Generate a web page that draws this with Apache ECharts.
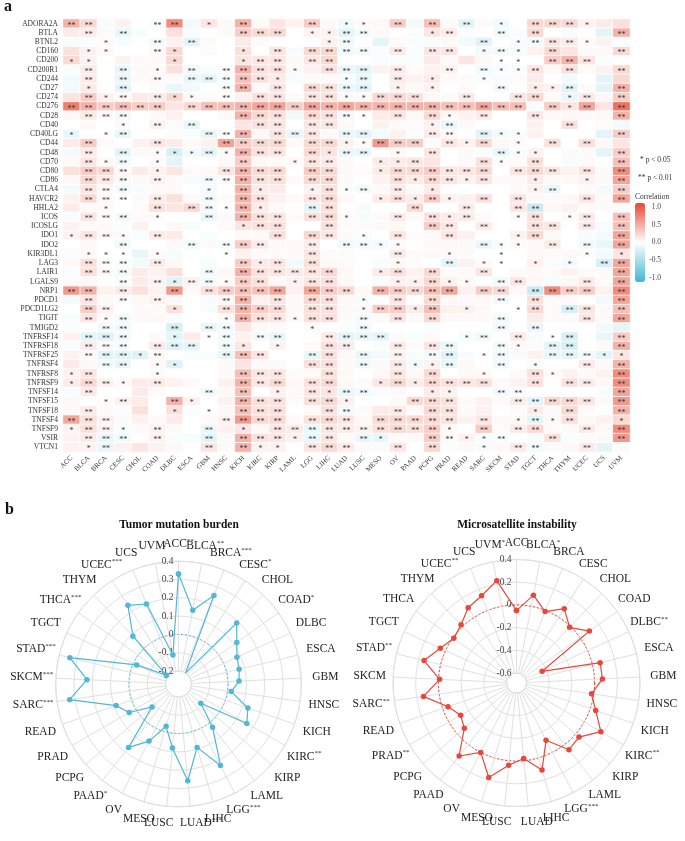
<!DOCTYPE html>
<html>
<head>
<meta charset="utf-8">
<script src="https://cdn.jsdelivr.net/npm/echarts@6/dist/echarts.min.js"></script>
<style>
html, body { margin: 0; padding: 0; background: #fff; }
#main { width: 685px; height: 841px; }
</style>
</head>
<body>
<div id="main"></div>
<script>
const SERIF = 'Liberation Serif';

const cancers = ['ACC', 'BLCA', 'BRCA', 'CESC', 'CHOL', 'COAD', 'DLBC', 'ESCA', 'GBM', 'HNSC', 'KICH',
  'KIRC', 'KIRP', 'LAML', 'LGG', 'LIHC', 'LUAD', 'LUSC', 'MESO', 'OV', 'PAAD', 'PCPG', 'PRAD', 'READ',
  'SARC', 'SKCM', 'STAD', 'TGCT', 'THCA', 'THYM', 'UCEC', 'UCS', 'UVM'];

const genes = ['ADORA2A', 'BTLA', 'BTNL2', 'CD160', 'CD200', 'CD200R1', 'CD244', 'CD27', 'CD274', 'CD276',
  'CD28', 'CD40', 'CD40LG', 'CD44', 'CD48', 'CD70', 'CD80', 'CD86', 'CTLA4', 'HAVCR2', 'HHLA2', 'ICOS',
  'ICOSLG', 'IDO1', 'IDO2', 'KIR3DL1', 'LAG3', 'LAIR1', 'LGALS9', 'NRP1', 'PDCD1', 'PDCD1LG2', 'TIGIT',
  'TMIGD2', 'TNFRSF14', 'TNFRSF18', 'TNFRSF25', 'TNFRSF4', 'TNFRSF8', 'TNFRSF9', 'TNFSF14', 'TNFSF15',
  'TNFSF18', 'TNFSF4', 'TNFSF9', 'VSIR', 'VTCN1'];

// correlation, one row per gene, columns in the order of cancers
const corrRows = [
  [.42,.21,-.04,.07,0,-.04,.63,-.07,.14,.03,.42,.03,.14,.07,.28,.03, -.07,.03,.04,.28,-.07,.35,.03,-.14,.03,-.07,0,.21,.21,.21,.07,.11,.17],
  [.11,.11,.03,-.11,-.04,0,.17,-.04,0,.03,.28,.21,.21,0,.07,.07, -.14,-.07,.04,0,-.03,.14,.11,-.03,0,-.07,-.03,.21,0,-.04,0,-.14,.42],
  [-.04,-.03,.03,-.04,0,-.07,.07,-.14,.03,0,.11,.03,0,0,-.03,.07, -.08,0,-.14,.03,-.04,-.03,.04,-.07,-.17,0,-.04,-.07,.14,.11,.03,.07,-.03],
  [.17,.07,.04,0,0,.04,.21,0,-.03,0,.17,0,.14,-.04,.21,.21, -.08,-.07,-.03,.11,-.04,.14,.14,0,-.07,-.07,-.04,.07,.21,.14,.03,.04,.21],
  [.21,.07,0,.07,.03,.03,.21,0,0,0,.14,.14,.14,.04,.14,.21, 0,0,-.03,-.03,-.03,.11,.03,.14,.04,0,0,0,.28,.42,.14,-.03,0],
  [-.04,.11,0,-.11,.04,.03,.17,-.07,-.04,.03,.42,.17,.17,.04,.07,.17, -.11,-.14,.07,.11,.03,.07,.07,0,-.07,-.04,-.03,.14,.04,.17,.03,.07,.21],
  [-.07,.11,0,-.11,.03,.04,.03,-.11,-.14,-.04,.35,.17,.11,-.04,.03,.03, -.04,-.11,0,.11,.07,.11,.03,.03,-.04,-.04,.03,.11,0,-.07,0,-.14,.21],
  [-.07,.11,0,-.14,0,.03,-.11,-.07,0,-.04,.42,.04,.14,0,.21,.17, -.11,-.14,0,.07,.03,.07,0,.03,0,-.07,0,.11,.07,-.17,.03,-.14,.42],
  [.14,.28,.07,.04,.11,.11,.21,.04,.03,0,.07,.17,.14,.03,.14,.17, .04,.03,.21,.21,.17,.04,.03,.11,0,0,.14,.21,.03,-.11,.11,.04,.28],
  [.70,.42,.28,.35,.28,.28,.14,.21,.35,.35,.42,.49,.49,.28,.49,.42, .49,.42,.42,.42,.42,.42,.35,.35,.49,.35,.35,-.04,.28,.14,.49,.14,.77],
  [.04,.11,.03,-.07,0,.03,.07,0,0,.03,.42,.21,.17,-.07,.21,.17, -.07,0,.11,.14,.03,.21,.04,.07,.11,0,0,.14,.04,.04,.03,.04,.42],
  [0,.03,0,.03,0,.07,.03,-.11,0,0,.14,.17,.14,0,.14,.14, .04,0,.07,.03,.03,.07,-.11,.04,0,0,0,.07,0,.17,0,.03,-.07],
  [-.11,0,0,-.11,0,0,.03,-.04,-.11,0,.42,.04,.14,-.11,.14,.03, -.11,-.14,-.07,.07,-.03,.11,.04,0,-.14,-.07,-.04,.07,0,0,0,-.14,.28],
  [.11,.28,.03,0,.07,.14,.11,.03,.07,.49,.28,.21,.21,.03,.21,.21, .07,.03,.56,.28,.28,.03,.14,.07,.21,.04,.03,0,.17,0,.17,.04,.14],
  [-.07,.11,0,-.14,.03,.03,-.21,-.07,-.14,.03,.42,.17,.14,0,.21,.14, -.11,-.11,0,.04,0,.14,0,.03,-.03,-.11,-.04,.07,0,.03,.03,-.14,.28],
  [.04,.14,.04,-.07,0,.03,-.14,0,0,.04,.28,.04,.03,.04,.14,.11, .03,0,.11,.11,.14,.14,0,.03,.17,.03,.03,.17,0,-.04,.03,0,.35],
  [.17,.28,.21,.04,.11,.07,.14,.03,.04,.14,.42,.21,.21,0,.28,.21, .04,.03,.11,.21,.21,.28,.14,.14,.21,0,.14,.21,.14,.07,.14,.03,.63],
  [.04,.21,.11,.04,.03,.07,.03,-.04,-.07,.03,.42,.17,.17,.03,.21,.21, .03,0,.07,.17,.11,.21,.14,.07,.14,.03,.04,.11,.03,.04,.07,.03,.49],
  [-.07,.14,.04,-.07,-.04,.03,.03,0,-.07,0,.42,.11,.11,0,.07,.17, -.03,-.07,.03,.11,.03,.11,0,0,0,0,.03,.07,-.11,0,.03,-.07,.28],
  [.07,.21,.04,0,.03,.11,.17,.03,-.07,.03,.42,.17,.07,.03,.14,.21, .04,0,.11,.17,.11,.28,.07,.07,.17,0,.14,.04,.03,.04,.14,.03,.49],
  [.11,.03,.03,0,.03,.17,.14,.21,-.07,0,.42,.11,.03,0,-.14,.17, 0,-.04,0,0,.21,0,0,.11,0,0,.14,-.28,.04,.07,.03,.03,.03],
  [-.04,.14,.03,-.07,.03,.03,0,0,-.11,.03,.42,.17,.14,.03,.17,.21, .03,-.04,.03,.11,.03,.17,.11,.11,.03,0,.03,.17,0,.03,.11,0,.35],
  [.07,.03,.03,-.03,.07,0,.04,-.04,0,.03,.14,.17,.17,0,0,.17, .03,.03,.04,.04,0,.28,.14,0,.11,0,0,.17,.14,0,.11,-.04,.35],
  [.07,.14,.04,.03,-.04,.11,.11,0,-.04,0,.03,.03,.17,0,.21,.14, .03,-.04,0,.14,.03,.04,.14,.07,0,0,.07,.21,.03,0,-.04,-.07,.49],
  [0,.04,0,-.07,0,0,.03,-.07,.03,-.04,.28,.11,.03,.04,.11,0, -.07,-.07,-.07,.03,0,.04,.04,.03,-.11,-.04,.03,.03,.11,0,-.07,-.11,.49],
  [-.03,.03,0,0,-.11,.03,-.04,0,0,0,.07,.03,.03,.03,.14,.03, .03,0,0,.11,.03,.04,.04,.03,0,0,0,.04,.03,.04,.03,-.07,.14],
  [.04,.17,.03,-.04,-.07,.11,.04,0,-.04,0,.28,.11,.14,-.07,.17,.04, .03,0,-.04,.04,.03,0,-.14,.07,.03,0,0,.07,-.04,-.07,0,-.21,.49],
  [-.03,.17,.04,-.07,.11,.07,.17,0,-.07,.04,.42,.17,.14,.11,.14,.21, .04,0,.11,.17,.07,.21,.03,.03,.14,0,.03,.04,.03,.07,.03,.03,.49],
  [.03,.04,0,-.04,.11,.07,-.17,.07,-.07,.03,.28,.17,.04,.07,.14,.17, .04,0,-.04,.07,.07,.21,.07,.04,0,-.07,.14,.04,-.04,.04,.11,.03,.49],
  [.56,.42,.07,.11,.17,.07,.56,.03,.17,.28,.35,.35,.49,.07,.49,.28, .21,.04,.42,.28,.21,.35,.49,.07,.28,.21,.04,-.28,.63,.28,.28,.07,.63],
  [-.07,.14,.03,-.04,.04,.07,.03,0,-.04,.04,.42,.07,.14,.03,.21,.17, .03,-.04,0,.14,0,.21,.04,.03,.03,-.07,0,.17,.03,.03,0,-.07,.49],
  [0,.28,.07,0,.03,.03,.17,0,-.04,.17,.42,.28,.21,.03,.17,.17, .04,.04,.28,.28,.11,.35,.07,.07,.04,0,0,.21,.03,-.21,.14,.03,.35],
  [-.04,.14,.03,-.07,.03,.04,-.04,0,0,.03,.42,.17,.14,.03,.17,.17, .03,-.07,.03,.14,.03,.21,.04,.04,.03,-.07,0,.11,.03,.03,.14,.03,.49],
  [-.04,0,-.07,-.07,0,0,-.21,0,-.11,-.07,.14,.04,.03,0,.03,0, -.03,-.07,0,0,0,-.03,0,0,0,-.07,0,-.11,0,0,0,-.07,-.14],
  [.07,-.14,-.17,-.07,0,.03,-.14,.11,0,-.07,.07,-.07,-.11,0,0,.11, -.14,-.11,-.14,.03,-.03,.03,0,-.04,-.07,0,.11,-.04,0,-.21,0,-.11,.28],
  [-.04,.11,.03,-.04,0,.11,-.17,-.14,0,-.07,.14,0,.07,0,.03,.17, .11,0,-.03,.11,.03,.14,-.11,0,0,-.07,.04,.03,-.14,-.21,0,.03,.42],
  [.07,.03,-.14,-.14,-.17,.04,0,-.04,-.04,-.11,.35,.14,0,0,-.11,.17, .04,-.11,-.07,.07,-.04,-.07,-.17,-.04,0,-.07,.03,.07,-.11,-.14,-.07,-.14,.14],
  [.11,.04,-.07,-.11,0,.04,-.17,0,0,.03,.14,.03,.03,0,.17,.17, .03,-.07,.03,.11,-.07,.07,-.11,.04,0,-.07,0,-.04,0,0,.11,.03,.42],
  [.07,.14,0,0,0,.03,0,0,0,.03,.35,.14,.14,.03,.04,.17, .04,0,.04,.14,.04,.21,0,.04,.04,0,.03,.17,.03,.07,.03,.07,.63],
  [.11,.21,.07,.03,.11,.11,.07,.03,0,.07,.42,.14,.21,.04,.17,.21, .04,.03,.14,.21,.11,.21,.17,.14,.17,.03,.07,.17,0,.17,.11,.04,.63],
  [-.04,.11,0,0,.11,.03,0,0,-.07,.04,.35,0,.07,.03,.14,.14, -.11,-.07,-.04,.03,0,.11,.07,0,0,-.07,-.04,0,0,0,0,-.04,.49],
  [.04,0,.03,.07,.11,0,.42,.07,0,.07,.42,.17,.17,.03,.17,.21, .07,0,0,.03,.21,.21,.17,.03,.07,.03,.11,-.14,.21,.21,.14,.03,.56],
  [.03,.11,.03,-.03,.17,0,.17,-.03,0,.04,.35,.17,.17,0,.03,.17, -.07,.03,.11,.11,.03,.21,.17,.03,.07,0,.03,.11,.03,.21,.03,0,.42],
  [.49,.17,.07,.03,.07,.03,.11,0,.03,.07,.56,.21,.21,.03,.17,.21, .14,.04,.21,.21,.21,.21,.17,.07,.14,.03,.04,-.14,.04,.17,.04,.07,.21],
  [.07,.17,.07,-.04,.03,.07,.03,0,-.11,.07,.14,.04,.14,.11,-.11,.14, .11,.07,.17,.21,.17,.28,.04,0,.28,.03,.11,.21,.03,.03,.11,.04,.63],
  [.07,.11,-.11,-.07,0,.07,-.04,-.04,-.14,.04,.42,.17,.14,.07,-.11,.14, .03,-.11,-.11,.03,.04,.28,.04,.07,-.04,-.04,0,-.04,.17,-.04,.03,.03,.56],
  [.07,.07,-.11,.07,.14,.07,.04,0,.14,.03,.42,.07,.07,0,.14,.21, .11,.03,-.04,.14,0,.21,-.03,.04,-.04,.04,.11,-.07,.03,.04,.11,-.14,.03]
];

// significance per cell: 0 none, 1 = p < 0.05, 2 = p < 0.01
const sigRows = [
  '2200022010200020 11020202010222100',
  '0202000000222011 22000120020200002',
  '0010020200000001 20000000201222100',
  '0110021000102022 22020220121020002',
  '1100001000122022 00000000011022200',
  '0202010202222102 22020020211202002',
  '0202020222221000 12020100100000000',
  '0102000002202022 22010100020112002',
  '0212021102022022 11222002002201202',
  '2222220222222222 22222222222021202',
  '0222000000222022 21020210200200002',
  '0001020200022022 00000120000002000',
  '1012000022202220 22000220211000002',
  '0200020002222022 11222021201020200',
  '0202011121222021 22010200021100002',
  '0212010000200122 00112000210200002',
  '0222010002222022 00122222202220202',
  '0222020022222022 00021221200100102',
  '0222000010210012 12020100000120002',
  '0222020020220022 00121210202000202',
  '0010020221210022 00002002002200000',
  '0222010020222022 10020212001201202',
  '0000000000122002 00000220200220202',
  '1221020000002022 01020020001200002',
  '0002000202220020 22110000211020202',
  '0111010001000020 00020010010000101',
  '0222020000212020 00010020110101022',
  '0222000020222222 00120200200000002',
  '0002021221220122 00011211022000202',
  '2202002022222022 20222220220222202',
  '0202020002202022 01020200020200002',
  '0220001002222022 01221201001202202',
  '0212000001222122 02020200020000202',
  '0022002022000010 02000000020200000',
  '0222001012022002 22200001202012002',
  '0222022202101002 20020220021022002',
  '0222120002220022 02020220120022211',
  '0022011000000022 02021120020100202',
  '1200010000222002 00020200100210002',
  '1221020000222022 00121222200202202',
  '0200000020201021 22000110022000002',
  '0012002100222022 10002220002222202',
  '0200001010222002 20020220000102002',
  '2220000002222022 20222220201212001',
  '1221020020102222 22222210202200202',
  '0222020020222122 02100221120020002',
  '0120000020211022 20020200102200200'
].map(s => s.replace(/ /g, ''));

// radar panels, same cancer order
const tmbValues = [0.33, 0.14, 0.25, -0.20, 0.19, 0.12, 0.08, 0.07, 0.06, 0.02, 0.13, 0.16, -0.11, 0.03,
  0.23, 0.09, 0.26, 0.08, -0.03, 0.08, 0.17, -0.08, 0.04, 0.09, 0.33, 0.23, 0.34, -0.02, -0.19, 0.09,
  0.24, 0.20, -0.11];
const tmbStars = ['**', '**', '***', '*', '', '*', '', '', '', '', '', '**', '', '', '***', '', '***', '',
  '', '', '*', '', '', '', '***', '***', '***', '', '***', '', '***', '', ''];

const msiValues = [-0.05, 0.10, -0.01, 0.09, -0.01, 0.10, -0.44, 0.07, 0.07, -0.02, 0.05, 0.17, 0.04,
  0.06, -0.12, 0.11, -0.02, 0.04, 0.18, 0.00, 0.13, -0.08, -0.12, -0.05, 0.14, -0.01, 0.15, 0.05,
  -0.01, 0.02, 0.10, 0.14, 0.23];
const msiStars = ['', '*', '', '', '', '', '**', '', '', '', '', '**', '', '', '***', '', '', '', '', '',
  '', '', '**', '', '**', '', '**', '', '', '', '**', '', '*'];

const legendTicks = [1, 0.5, 0, -0.5, -1];

const chart = echarts.init(document.getElementById('main'));

const heatData = [];
genes.forEach((g, r) => {
  cancers.forEach((c, k) => heatData.push([k, r, corrRows[r][k]]));
});

const GRID = '#e0e0e0';
const n = cancers.length;

const measureCtx = document.createElement('canvas').getContext('2d');
function textWidth(str, size) {
  measureCtx.font = size + 'px "' + SERIF + '"';
  return measureCtx.measureText(str).width;
}

const labelRich = {
  n: { fontSize: 11.5, fontFamily: SERIF, fill: '#222', padding: [2, 0, 2, 0] },
  s: { fontSize: 7, fontFamily: SERIF, fill: '#222', padding: [0, 0, 6, 0] }
};

// category names round a radar, centred on a ring just outside it
function radarLabels(cx, cy, stars) {
  return cancers.map((c, i) => {
    const a = (90 - i * 360 / n) * Math.PI / 180;
    const cos = Math.cos(a), sin = Math.sin(a);
    const R = 140 + 7 * cos * cos;
    let x = cx + R * cos;
    // the two names straddling the bottom spoke are pushed apart
    if (sin < 0 && Math.abs(cos) < 0.12) {
      const w = textWidth(c, 11.5) + (stars[i] ? textWidth(stars[i], 7) : 0);
      x += Math.sign(cos) * w * 0.22;
    }
    return {
      type: 'text',
      x: x,
      y: cy - R * sin,
      style: {
        text: '{n|' + c + '}' + (stars[i] ? '{s|' + stars[i] + '}' : ''),
        rich: labelRich, align: 'center', verticalAlign: 'middle'
      }
    };
  });
}

const polars = [];
const angleAxes = [];
const radiusAxes = [];
const series = [];

series.push({
  type: 'heatmap',
  xAxisIndex: 0, yAxisIndex: 0,
  data: heatData,
  progressive: 0,
  silent: true,
  itemStyle: { borderColor: '#fff', borderWidth: 0.8 },
  label: {
    show: true, fontSize: 8, fontFamily: SERIF, color: '#333', offset: [0, 2],
    formatter: p => {
      const s = sigRows[p.data[1]][p.data[0]];
      return s === '2' ? '**' : (s === '1' ? '*' : '');
    }
  },
  emphasis: { disabled: true }
});

function addRadar(center, radius, min, max, step, values, color) {
  const main = polars.length;
  polars.push({ center: center, radius: radius }, { center: center, radius: radius });
  angleAxes.push({
    polarIndex: main, type: 'value', min: 0, max: n, interval: 1, startAngle: 90, clockwise: true,
    axisLine: { lineStyle: { color: GRID } },
    axisTick: { show: false },
    axisLabel: { show: false },
    splitLine: { lineStyle: { color: GRID } }
  }, {
    polarIndex: main + 1, type: 'value', min: 0, max: n, startAngle: 90, show: false
  });
  radiusAxes.push({
    polarIndex: main, type: 'value', min: min, max: max, interval: step,
    axisLine: { show: false }, axisTick: { show: false },
    axisLabel: {
      fontSize: 9.5, fontFamily: SERIF, color: '#444', showMinLabel: true, showMaxLabel: true, margin: 5,
      formatter: v => (Math.abs(v) < 1e-9 ? '0' : v.toFixed(1))
    },
    splitLine: { lineStyle: { color: GRID } }
  });
  // dotted ring at zero
  const ringColors = [];
  for (let t = min; t <= max + 1e-9; t += step) {
    ringColors.push(Math.abs(t) < 1e-9 ? color : 'rgba(0,0,0,0)');
  }
  radiusAxes.push({
    polarIndex: main + 1, type: 'value', min: min, max: max, interval: step,
    axisLine: { show: false }, axisTick: { show: false }, axisLabel: { show: false },
    splitLine: { lineStyle: { color: ringColors, type: [2, 2], width: 1 } }
  });
  series.push({
    type: 'line', coordinateSystem: 'polar', polarIndex: main,
    data: values.map((v, i) => [v, i]).concat([[values[0], n]]),
    symbol: 'circle', symbolSize: 5.5, silent: true, z: 5,
    lineStyle: { color: color, width: 1.2 },
    itemStyle: { color: color }
  });
}

addRadar([178.5, 684], [13, 122.8], -0.2, 0.4, 0.1, tmbValues, '#4fb8d6');
addRadar([516.5, 683], [10, 123.5], -0.6, 0.4, 0.2, msiValues, '#e8473a');

const graphics = [
  { type: 'text', x: 4, y: -1, style: { text: 'a', font: 'bold 16px "Liberation Serif"', fill: '#111' } },
  { type: 'text', x: 5, y: 502, style: { text: 'b', font: 'bold 16px "Liberation Serif"', fill: '#111' } },
  { type: 'text', x: 179, y: 525, style: { text: 'Tumor mutation burden', font: 'bold 11.5px "Liberation Serif"', fill: '#111', align: 'center', verticalAlign: 'middle' } },
  { type: 'text', x: 517, y: 525, style: { text: 'Microsatellite instability', font: 'bold 11.5px "Liberation Serif"', fill: '#111', align: 'center', verticalAlign: 'middle' } },
  { type: 'text', x: 640, y: 160, style: { text: '* p < 0.05', font: '7.5px "Liberation Serif"', fill: '#333', verticalAlign: 'middle' } },
  { type: 'text', x: 638, y: 178, style: { text: '** p < 0.01', font: '7.5px "Liberation Serif"', fill: '#333', verticalAlign: 'middle' } },
  { type: 'text', x: 635, y: 197, style: { text: 'Correlation', font: '7.5px "Liberation Serif"', fill: '#333', verticalAlign: 'middle' } }
];
legendTicks.forEach(t => {
  graphics.push({
    type: 'text', x: 661, y: 207 + (1 - t) / 2 * 71,
    style: { text: t.toFixed(1), font: '7.5px "Liberation Serif"', fill: '#444', align: 'right', verticalAlign: 'middle' }
  });
});
radarLabels(178.5, 684, tmbStars).forEach(g => graphics.push(g));
radarLabels(516.5, 683, msiStars).forEach(g => graphics.push(g));

chart.setOption({
  animation: false,
  backgroundColor: '#fff',
  grid: { left: 63, top: 19, width: 567, height: 433 },
  xAxis: {
    type: 'category', data: cancers,
    axisLine: { show: false }, axisTick: { show: false }, splitLine: { show: false },
    axisLabel: { interval: 0, rotate: 45, fontSize: 7, fontFamily: SERIF, color: '#333', margin: 5 }
  },
  yAxis: {
    type: 'category', data: genes, inverse: true,
    axisLine: { show: false }, axisTick: { show: false }, splitLine: { show: false },
    axisLabel: { interval: 0, fontSize: 7.5, fontFamily: SERIF, color: '#333', margin: 5 }
  },
  visualMap: {
    type: 'continuous', min: -1, max: 1, seriesIndex: 0,
    left: 635, top: 203, itemWidth: 10, itemHeight: 79, padding: 0,
    text: ['', ''], calculable: false, hoverLink: false,
    inRange: { color: ['#40b6d3', '#ffffff', '#e8482f'] }
  },
  polar: polars,
  angleAxis: angleAxes,
  radiusAxis: radiusAxes,
  series: series,
  graphic: graphics
});
</script>
</body>
</html>
